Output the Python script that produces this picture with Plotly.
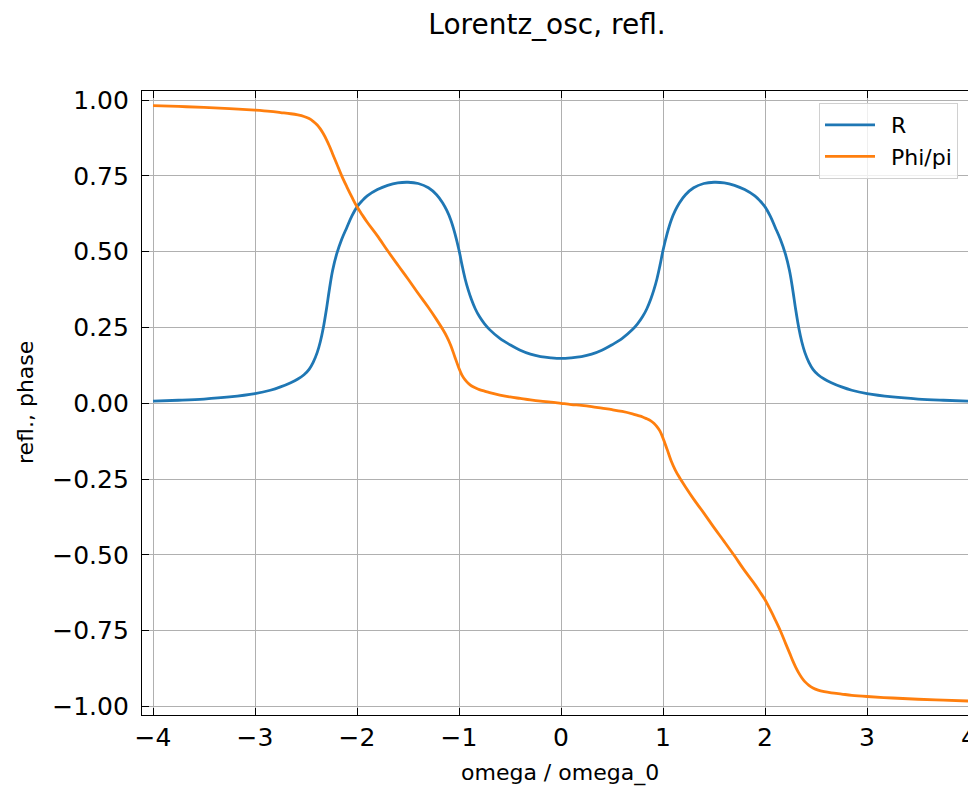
import plotly.graph_objects as go

# omega / omega_0 sample positions
omega = [-4.0, -3.75, -3.5, -3.25, -3.0, -2.85, -2.75, -2.65, -2.58, -2.52, -2.47, -2.43,
         -2.39, -2.36, -2.33, -2.3, -2.27, -2.24, -2.2, -2.15, -2.1, -2.05, -2.0, -1.95,
         -1.9, -1.8, -1.7, -1.6, -1.5, -1.4, -1.3, -1.22, -1.16, -1.12, -1.08, -1.04,
         -1.0, -0.97, -0.94, -0.91, -0.88, -0.84, -0.8, -0.75, -0.7, -0.6, -0.5, -0.4,
         -0.3, -0.2, -0.1, 0.0,
         0.1, 0.2, 0.3, 0.4, 0.5, 0.6, 0.7, 0.75, 0.8, 0.84, 0.88, 0.91, 0.94, 0.97,
         1.0, 1.04, 1.08, 1.12, 1.16, 1.22, 1.3, 1.4, 1.5, 1.6, 1.7, 1.8, 1.9, 1.95,
         2.0, 2.05, 2.1, 2.15, 2.2, 2.24, 2.27, 2.3, 2.33, 2.36, 2.39, 2.43, 2.47, 2.52,
         2.58, 2.65, 2.75, 2.85, 3.0, 3.25, 3.5, 3.75, 4.0]

# reflectance R
refl_R = [0.007, 0.010, 0.014, 0.021, 0.032, 0.043, 0.054, 0.068, 0.080, 0.094, 0.112, 0.135,
          0.168, 0.203, 0.250, 0.310, 0.378, 0.437, 0.492, 0.541, 0.580, 0.618, 0.648, 0.668,
          0.684, 0.705, 0.719, 0.727, 0.729, 0.725, 0.711, 0.688, 0.661, 0.636, 0.604, 0.560,
          0.505, 0.455, 0.410, 0.374, 0.344, 0.311, 0.286, 0.262, 0.243, 0.214, 0.193, 0.175,
          0.162, 0.154, 0.150, 0.148,
          0.150, 0.154, 0.162, 0.175, 0.193, 0.214, 0.243, 0.262, 0.286, 0.311, 0.344, 0.374,
          0.410, 0.455, 0.505, 0.560, 0.604, 0.636, 0.661, 0.688, 0.711, 0.725, 0.729, 0.727,
          0.719, 0.705, 0.684, 0.668, 0.648, 0.618, 0.580, 0.541, 0.492, 0.437, 0.378, 0.310,
          0.250, 0.203, 0.168, 0.135, 0.112, 0.094, 0.080, 0.068, 0.054, 0.043, 0.032, 0.021,
          0.014, 0.010, 0.007]

# phase / pi
phase_pi = [0.982, 0.979, 0.976, 0.972, 0.967, 0.963, 0.959, 0.955, 0.951, 0.946, 0.939, 0.930,
            0.918, 0.905, 0.889, 0.870, 0.848, 0.823, 0.791, 0.750, 0.714, 0.680, 0.648, 0.622,
            0.597, 0.552, 0.503, 0.456, 0.410, 0.362, 0.316, 0.276, 0.244, 0.220, 0.190, 0.152,
            0.115, 0.092, 0.077, 0.066, 0.058, 0.051, 0.045, 0.040, 0.035, 0.027, 0.021, 0.016,
            0.011, 0.007, 0.004, 0.0,
            -0.004, -0.007, -0.011, -0.016, -0.021, -0.027, -0.035, -0.040, -0.045, -0.051,
            -0.058, -0.066, -0.077, -0.092, -0.115, -0.152, -0.190, -0.220, -0.244, -0.276,
            -0.316, -0.362, -0.410, -0.456, -0.503, -0.552, -0.597, -0.622, -0.648, -0.680,
            -0.714, -0.750, -0.791, -0.823, -0.848, -0.870, -0.889, -0.905, -0.918, -0.930,
            -0.939, -0.946, -0.951, -0.955, -0.959, -0.963, -0.967, -0.972, -0.976, -0.979,
            -0.982]

x_ticks = [-4, -3, -2, -1, 0, 1, 2, 3, 4]
y_ticks = [-1.0, -0.75, -0.5, -0.25, 0.0, 0.25, 0.5, 0.75, 1.0]
series_names = ["R", "Phi/pi"]

FONT = "DejaVu Sans"

fig = go.Figure()
fig.add_trace(go.Scatter(x=omega, y=refl_R, mode="lines", name="\u2002" + series_names[0],
                         line=dict(color="#1f77b4", width=2.8, shape="spline", smoothing=1.0)))
fig.add_trace(go.Scatter(x=omega, y=phase_pi, mode="lines", name="\u2002" + series_names[1],
                         line=dict(color="#ff7f0e", width=2.8, shape="spline", smoothing=1.0)))

# page has an 8px body margin; figure coordinates = page coordinates - 8
OFF = 8
W, H = 976 - OFF, 788 - OFF
L = 142 - OFF
T = 91 - OFF
B = H - (715 - OFF)
pw = W - L
ph = H - T - B

fig.update_layout(
    width=W, height=H,
    margin=dict(l=L, r=0, t=T, b=B, pad=0),
    paper_bgcolor="white", plot_bgcolor="white",
    font=dict(family=FONT, color="black"),
    showlegend=True,
    legend=dict(x=(819 - 142) / pw, y=(715 - 103) / ph, xanchor="left", yanchor="top",
                bgcolor="rgba(255,255,255,0.8)", bordercolor="#d0d0d0", borderwidth=1,
                itemwidth=50, tracegroupgap=4,
                font=dict(family=FONT, size=22, color="black")),
    title=dict(text="Lorentz_osc, refl.", x=(547 - 142) / pw, xref="paper", xanchor="center",
               y=1 - (24 - OFF) / H, yref="container", yanchor="middle",
               font=dict(family=FONT, size=28, color="black")),
)

fig.update_xaxes(range=[-4.108, 4.068], tickvals=x_ticks,
                 ticktext=[str(v).replace("-", "\u2212") for v in x_ticks],
                 showgrid=True, gridcolor="#b0b0b0", gridwidth=1,
                 showline=True, linecolor="black", linewidth=1.3, mirror="ticks",
                 ticks="inside", ticklen=7, tickwidth=1.3, tickcolor="black",
                 ticklabeloverflow="allow",
                 tickfont=dict(family=FONT, size=25, color="black"), zeroline=False)
fig.update_yaxes(range=[-1.028, 1.030], tickvals=y_ticks,
                 ticktext=[f"{v:.2f}".replace("-", "\u2212") for v in y_ticks],
                 showgrid=True, gridcolor="#b0b0b0", gridwidth=1,
                 showline=True, linecolor="black", linewidth=1.3, mirror=False,
                 ticks="inside", ticklen=7, tickwidth=1.3, tickcolor="black",
                 ticklabelstandoff=7,
                 tickfont=dict(family=FONT, size=25, color="black"), zeroline=False)

fig.add_annotation(text="omega / omega_0", xref="paper", yref="paper",
                   x=(560 - 142) / pw, y=(715 - 773) / ph, xanchor="center", yanchor="middle",
                   showarrow=False, font=dict(family=FONT, size=22, color="black"))
fig.add_annotation(text="refl., phase", xref="paper", yref="paper",
                   x=(25 - 142) / pw, y=0.5, xanchor="center", yanchor="middle", textangle=-90,
                   showarrow=False, font=dict(family=FONT, size=22, color="black"))

fig.write_html("out.html")
